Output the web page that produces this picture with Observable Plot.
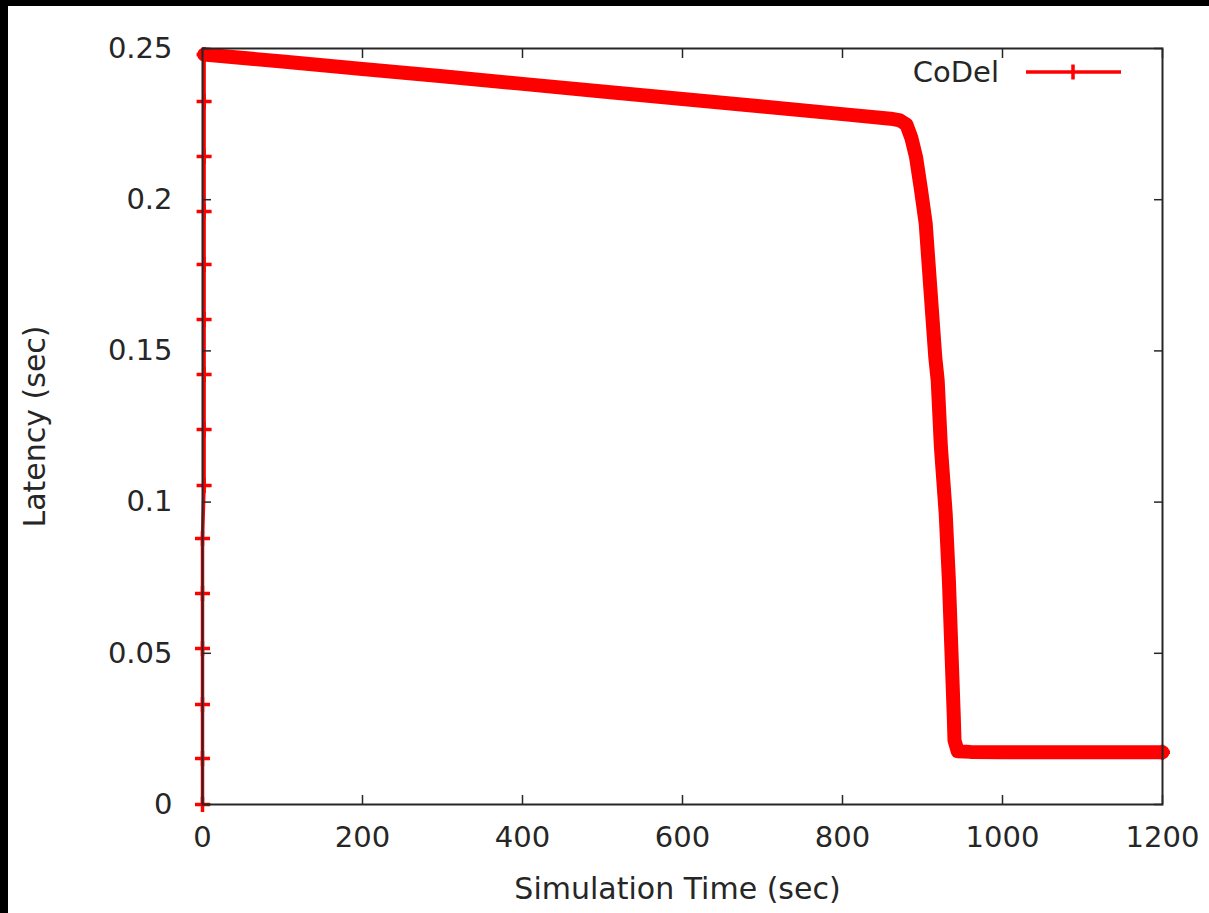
<!DOCTYPE html>
<html>
<head>
<meta charset="utf-8">
<script src="https://cdn.jsdelivr.net/npm/d3@7"></script>
<script src="https://cdn.jsdelivr.net/npm/@observablehq/plot@0.6"></script>
<style>
  html, body { margin: 0; padding: 0; background: #fff; }
  #wrap {
    position: relative;
    width: 1201px; height: 907px;
    border-top: 6px solid #000;
    border-left: 8px solid #000;
    background: #fff;
    font-family: "DejaVu Sans", sans-serif;
    overflow: hidden;
  }
  #wrap svg { display: block; }
  #legend { position: absolute; left: 0; top: 0; pointer-events: none; }
</style>
</head>
<body>
<div id="wrap"></div>
<script>
// ---- data ----
const seriesName = "CoDel";
const xLabel = "Simulation Time (sec)";
const yLabel = "Latency (sec)";
const xTicks = [0, 200, 400, 600, 800, 1000, 1200];
const yTicks = [0, 0.05, 0.1, 0.15, 0.2, 0.25];

// start-up ramp (individual samples, visible as separate "+" markers)
const rampT = [0, 0, 0, 0, 0, 0, 2, 2, 2, 2, 2, 2, 2, 2, 2];
const rampV = [0, 0.0152, 0.0331, 0.0516, 0.0698, 0.0880, 0.1055, 0.1240,
               0.1422, 0.1604, 0.1786, 0.1961, 0.2143, 0.2325, 0.2480];

// dense part of the series (markers overlap into a thick band)
const bandT = [2, 100, 200, 300, 400, 500, 600, 700, 800, 860, 872, 880, 886,
               892, 898, 904, 910, 916, 919, 923, 929, 933, 936, 939, 940,
               944, 960, 1000, 1050, 1100, 1150, 1200];
const bandV = [0.2480, 0.2457, 0.2432, 0.2408, 0.2383, 0.2358, 0.2333, 0.2308,
               0.2283, 0.2268, 0.2262, 0.2248, 0.2205, 0.2140, 0.2035, 0.1921,
               0.1700, 0.1478, 0.1402, 0.1182, 0.0962, 0.0741, 0.0520, 0.0300,
               0.0212, 0.0176, 0.0174, 0.0173, 0.0173, 0.0173, 0.0173, 0.0173];

// ---- build ----
const RED = "#ff0000";
const INK = "#262626";
const ramp = rampT.map((t, i) => ({t, v: rampV[i]}));
const band = bandT.map((t, i) => ({t, v: bandV[i]}));
const markerPts = ramp.concat([band[band.length - 1]]);

const W = 1201, H = 907;
const plot = Plot.plot({
  width: W, height: H,
  marginLeft: 194, marginRight: 47, marginTop: 42, marginBottom: 109,
  style: {fontFamily: "DejaVu Sans, sans-serif", fontSize: "29px", color: INK, background: "#fff", overflow: "visible"},
  x: {domain: [0, 1200]},
  y: {domain: [0, 0.25]},
  marks: [
    Plot.line(band, {x: "t", y: "v", stroke: RED, strokeWidth: 14, strokeLinejoin: "round"}),
    Plot.line(ramp, {x: "t", y: "v", stroke: RED, strokeWidth: 3.5}),
    Plot.dot(markerPts, {x: "t", y: "v", symbol: "plus", r: 4.9, stroke: RED, strokeWidth: 3.5}),
    Plot.frame({stroke: INK, strokeWidth: 2}),
    Plot.axisX(xTicks, {anchor: "bottom", tickSize: -9, tickPadding: 31, tickFormat: d => String(d), label: null, color: INK, strokeWidth: 1.5, fontSize: 29}),
    Plot.axisX(xTicks, {anchor: "top", tickSize: -9, tickFormat: () => "", label: null, color: INK, strokeWidth: 1.5}),
    Plot.axisY(yTicks, {anchor: "left", tickSize: -9, tickPadding: 39, tickFormat: d => String(d), label: null, color: INK, strokeWidth: 1.5, fontSize: 29}),
    Plot.axisY(yTicks, {anchor: "right", tickSize: -9, tickFormat: () => "", label: null, color: INK, strokeWidth: 1.5}),
    Plot.text([yLabel], {frameAnchor: "left", textAnchor: "middle", lineAnchor: "middle", dx: -167, rotate: -90, fontSize: 30, fill: INK}),
    Plot.text([xLabel], {frameAnchor: "bottom", textAnchor: "middle", lineAnchor: "middle", dx: -5, dy: 85, fontSize: 30, fill: INK})
  ]
});
const wrap = document.getElementById("wrap");
wrap.appendChild(plot);

// ---- key (top-right, inside the frame) ----
const key = d3.select(wrap).append("svg")
  .attr("id", "legend").attr("width", W).attr("height", 120);
key.append("text")
  .attr("x", 991).attr("y", 76)
  .attr("text-anchor", "end")
  .attr("font-family", "DejaVu Sans, sans-serif")
  .attr("font-size", 29)
  .attr("fill", INK)
  .text(seriesName);
key.append("line")
  .attr("x1", 1018).attr("x2", 1113).attr("y1", 66).attr("y2", 66)
  .attr("stroke", RED).attr("stroke-width", 3.5);
key.append("line")
  .attr("x1", 1065).attr("x2", 1065).attr("y1", 58.5).attr("y2", 73.5)
  .attr("stroke", RED).attr("stroke-width", 3.5);
</script>
</body>
</html>
